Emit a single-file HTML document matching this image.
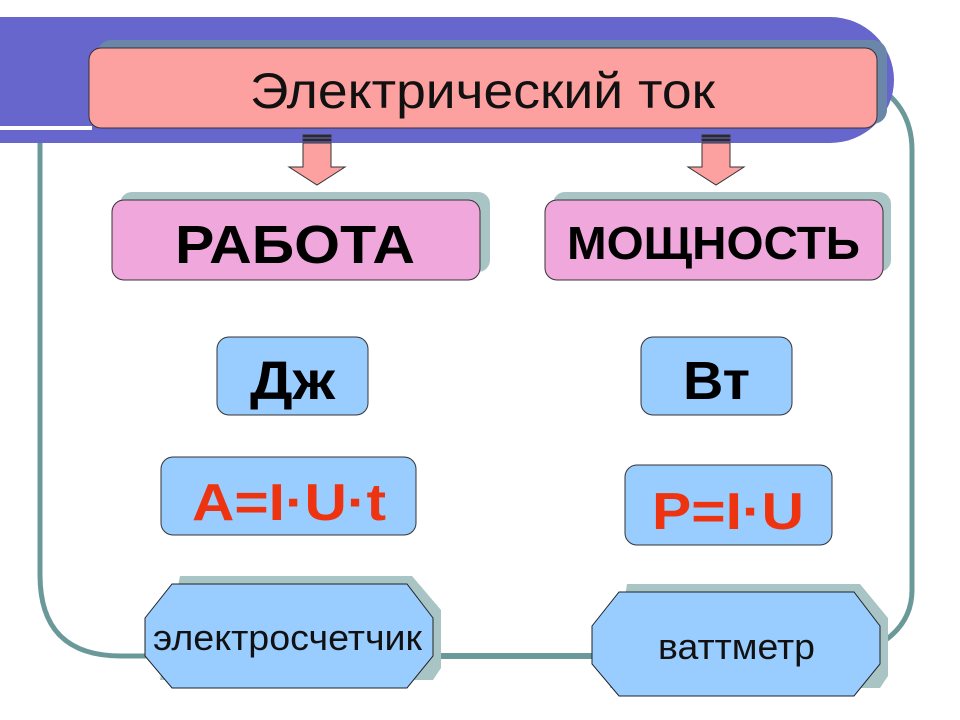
<!DOCTYPE html>
<html><head><meta charset="utf-8"><style>
html,body{margin:0;padding:0;background:#fff;width:960px;height:720px;overflow:hidden}
text{font-family:"Liberation Sans",sans-serif}
</style></head><body>
<svg width="960" height="720" viewBox="0 0 960 720" xmlns="http://www.w3.org/2000/svg">
<rect width="960" height="720" fill="#fff"/>
<path d="M40 143 V575 Q40 656 121 656 H600" fill="none" stroke="#6b9999" stroke-width="5"/>
<path d="M880 88 Q912 110 912 150 V590 Q912 625 878 645" fill="none" stroke="#6b9999" stroke-width="5"/>
<line x1="430" y1="656" x2="600" y2="656" stroke="#6b9999" stroke-width="6"/>
<path d="M0 17 H830 A64 63 0 0 1 830 143 H0 Z" fill="#6666cc"/>
<rect x="0" y="126" width="92" height="4" fill="#fff"/>
<rect x="97" y="40" width="790" height="84" rx="14" fill="#6a86a8"/>
<rect x="89" y="48" width="788" height="80" rx="12" fill="#fca0a0" stroke="#333" stroke-width="1"/>
<text x="250" y="108" font-size="50" fill="#111" textLength="465" lengthAdjust="spacingAndGlyphs">Электрический ток</text>
<g fill="#fca0a0" stroke="#333" stroke-width="1">
<rect x="303" y="135" width="28" height="2" fill="#222"/>
<rect x="303" y="139" width="28" height="2" fill="#222"/>
<path d="M303 143 H331 V167 H345 L317 185 L289 167 H303 Z"/>
<rect x="702" y="135" width="28" height="2" fill="#222"/>
<rect x="702" y="139" width="28" height="2" fill="#222"/>
<path d="M702 143 H730 V167 H744 L716 185 L688 167 H702 Z"/>
</g>
<rect x="120" y="192" width="370" height="80" rx="12" fill="#a9c4c4"/>
<rect x="112" y="200" width="368" height="80" rx="12" fill="#f0a8dc" stroke="#333"/>
<text x="175" y="263" font-size="54" font-weight="bold" fill="#000" textLength="240" lengthAdjust="spacingAndGlyphs">РАБОТА</text>
<rect x="553" y="192" width="338" height="80" rx="12" fill="#a9c4c4"/>
<rect x="545" y="200" width="338" height="80" rx="12" fill="#f0a8dc" stroke="#333"/>
<text x="567" y="259" font-size="46" font-weight="bold" fill="#000" textLength="293" lengthAdjust="spacingAndGlyphs">МОЩНОСТЬ</text>
<g fill="#99ccff" stroke="#333">
<rect x="217" y="337" width="151" height="78" rx="12"/>
<rect x="641" y="337" width="151" height="78" rx="12"/>
<rect x="161" y="457" width="255" height="78" rx="12"/>
<rect x="625" y="465" width="207" height="80" rx="12"/>
</g>
<text x="250" y="399" font-size="54" font-weight="bold" textLength="85" lengthAdjust="spacingAndGlyphs">Дж</text>
<text x="683" y="399" font-size="54" font-weight="bold" textLength="67" lengthAdjust="spacingAndGlyphs">Вт</text>
<text x="192" y="520" font-size="52" font-weight="bold" fill="#ee3311" textLength="194" lengthAdjust="spacingAndGlyphs">A=I·U·t</text>
<text x="652" y="529" font-size="52" font-weight="bold" fill="#ee3311" textLength="152" lengthAdjust="spacingAndGlyphs">P=I·U</text>
<path d="M180 576 H412 L441 610 V668 L433 680 H160 Z" fill="#a9c4c4"/>
<path d="M172 584 H407 L433 618 V656 L407 688 H172 L145 656 V618 Z" fill="#99ccff" stroke="#222"/>
<text x="153" y="650" font-size="36" fill="#111" textLength="269" lengthAdjust="spacingAndGlyphs">электросчетчик</text>
<path d="M627 584 H860 L888 618 V676 L880 688 H610 Z" fill="#a9c4c4"/>
<path d="M619 592 H854 L880 626 V664 L854 696 H619 L592 664 V626 Z" fill="#99ccff" stroke="#222"/>
<text x="658" y="659" font-size="36" fill="#111" textLength="157" lengthAdjust="spacingAndGlyphs">ваттметр</text>
</svg>
</body></html>
